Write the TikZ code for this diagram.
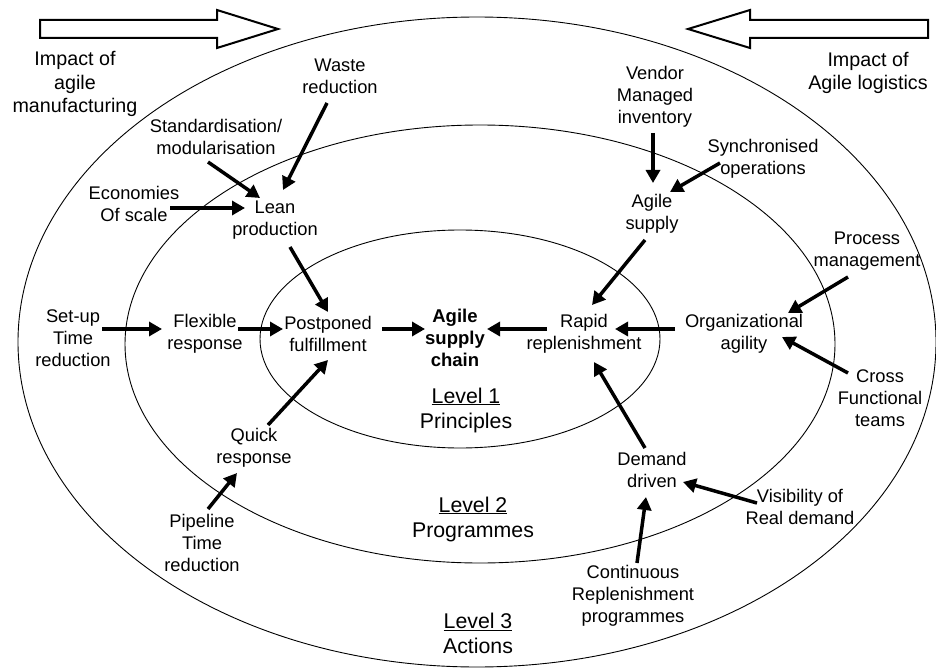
\documentclass[tikz,border=0pt]{standalone}
\usepackage{fontspec}
\setmainfont{Liberation Sans}
\usetikzlibrary{arrows.meta}
\begin{document}
\begin{tikzpicture}[x=1pt,y=-1pt,
  lbl/.style={align=center, inner sep=0pt, font=\fontsize{18.3}{22}\selectfont},
  corner/.style={align=center, inner sep=0pt, font=\fontsize{19.7}{23.5}\selectfont},
  level/.style={align=center, inner sep=0pt, font=\fontsize{21.3}{25}\selectfont},
  core/.style={align=center, inner sep=0pt, font=\fontsize{18.5}{22}\selectfont\bfseries},
  ring/.style={draw, line width=0.9pt},
  flow/.style={-{Triangle[length=13pt,width=14pt]}, line width=3.5pt},
  bigarrow/.style={draw, line width=2pt, line join=miter}
]
\useasboundingbox (0,0) rectangle (936,668);

% the three levels
\draw[ring] (477,342) ellipse [x radius=459pt, y radius=325pt];
\draw[ring] (480,344) ellipse [x radius=355pt, y radius=219pt];
\draw[ring] (460,339) ellipse [x radius=200pt, y radius=109pt];

% hollow impact arrows
\draw[bigarrow] (40,20) -- (217,20) -- (217,10) -- (278,29) -- (217,48) -- (217,38) -- (40,38) -- cycle;
\draw[bigarrow] (928,20) -- (750,20) -- (750,10) -- (688,29) -- (750,48) -- (750,38) -- (928,38) -- cycle;

% labels
\node[corner] (impAM) at (75,84) {Impact of\\agile\\manufacturing};
\node[corner] (impAL) at (868,73) {Impact of\\Agile logistics};

\node[lbl] (waste) at (340,76) {Waste\\reduction};
\node[lbl] (stand) at (216,137) {Standardisation/\\modularisation};
\node[lbl] (econ) at (134,204) {Economies\\Of scale};
\node[lbl] (lean) at (275,220) {Lean\\production};
\node[lbl] (setup) at (73,338) {Set-up\\Time\\reduction};
\node[lbl] (flex) at (205,334) {Flexible\\response};
\node[lbl] (post) at (328,334) {Postponed\\fulfillment};
\node[core] (asc) at (455,338) {Agile\\supply\\chain};
\node[lbl] (rapid) at (584,334) {Rapid\\replenishment};
\node[lbl] (org) at (744,334) {Organizational\\agility};
\node[lbl] (proc) at (867,251) {Process\\management};
\node[lbl] (cross) at (880,398) {Cross\\Functional\\teams};
\node[lbl] (asup) at (652,214) {Agile\\supply};
\node[lbl] (vmi) at (655,97) {Vendor\\Managed\\inventory};
\node[lbl] (sync) at (763,159) {Synchronised\\operations};
\node[lbl] (demand) at (652,470) {Demand\\driven};
\node[lbl] (vis) at (800,507) {Visibility of\\Real demand};
\node[lbl] (crp) at (633,596) {Continuous\\Replenishment\\programmes};
\node[lbl] (quick) at (254,448) {Quick\\response};
\node[lbl] (pipe) at (202,543) {Pipeline\\Time\\reduction};

\node[level] (lev1) at (466,410) {\underline{Level 1}\\Principles};
\node[level] (lev2) at (473,519) {\underline{Level 2}\\Programmes};
\node[level] (lev3) at (478,633) {\underline{Level 3}\\Actions};

% connectors
\draw[flow] ([shift={(36,4)}]econ.center) -- ([shift={(-30,-12)}]lean.center);
\draw[flow] ([shift={(-8,25)}]stand.center) -- ([shift={(-15,-22)}]lean.center);
\draw[flow] ([shift={(-13,27)}]waste.center) -- ([shift={(8,-30)}]lean.center);
\draw[flow] ([shift={(15,27)}]lean.center) -- ([shift={(0,-22)}]post.center);
\draw[flow] ([shift={(29,-9)}]setup.center) -- ([shift={(-43,-5)}]flex.center);
\draw[flow] ([shift={(33,-5)}]flex.center) -- ([shift={(-45,-5)}]post.center);
\draw[flow] ([shift={(54,-5)}]post.center) -- ([shift={(-30,-9)}]asc.center);
\draw[flow] ([shift={(-37,-5)}]rapid.center) -- ([shift={(32,-9)}]asc.center);
\draw[flow] ([shift={(-69,-5)}]org.center) -- ([shift={(31,-5)}]rapid.center);
\draw[flow] ([shift={(-19,26)}]proc.center) -- ([shift={(44,-21)}]org.center);
\draw[flow] ([shift={(-32,-25)}]cross.center) -- ([shift={(38,3)}]org.center);
\draw[flow] ([shift={(-7,26)}]asup.center) -- ([shift={(8,-29)}]rapid.center);
\draw[flow] ([shift={(-2,36)}]vmi.center) -- ([shift={(1,-31)}]asup.center);
\draw[flow] ([shift={(-43,4)}]sync.center) -- ([shift={(18,-22)}]asup.center);
\draw[flow] ([shift={(-7,-22)}]demand.center) -- ([shift={(10,28)}]rapid.center);
\draw[flow] ([shift={(-43,-4)}]vis.center) -- ([shift={(31,12)}]demand.center);
\draw[flow] ([shift={(4,-33)}]crp.center) -- ([shift={(-6,27)}]demand.center);
\draw[flow] ([shift={(14,-23)}]quick.center) -- ([shift={(0,26)}]post.center);
\draw[flow] ([shift={(6,-34)}]pipe.center) -- ([shift={(-17,25)}]quick.center);
\end{tikzpicture}
\end{document}
